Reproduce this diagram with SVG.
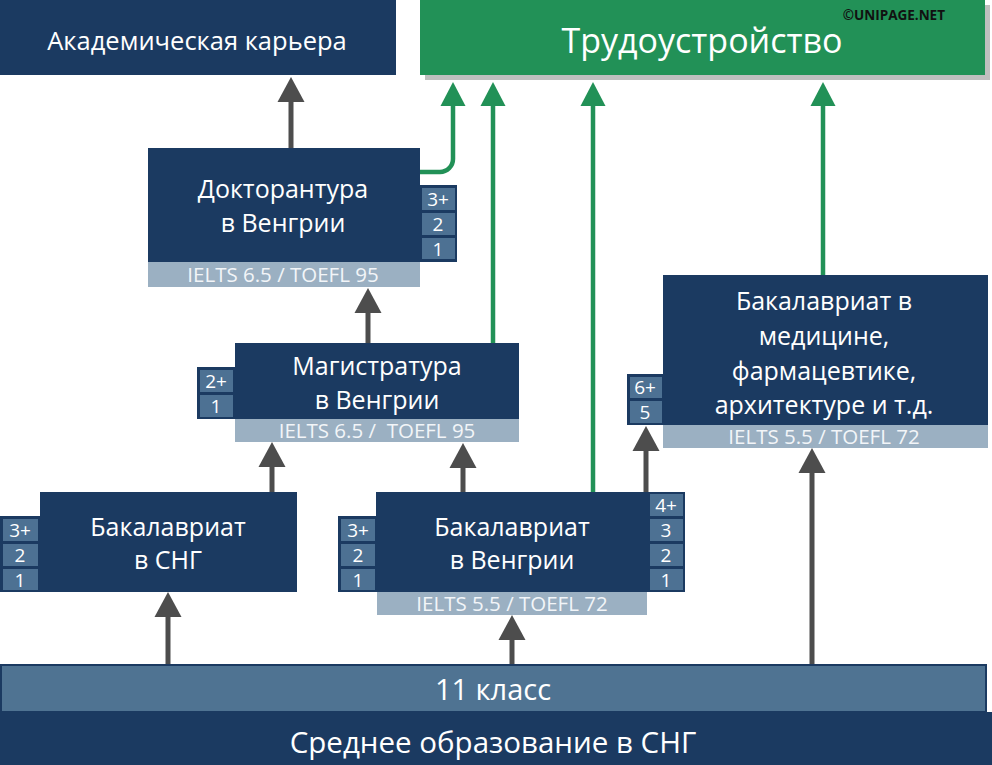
<svg xmlns="http://www.w3.org/2000/svg" width="992" height="765" viewBox="0 0 992 765">
<style>
.box{fill:#1b3a61}
.strip{fill:#9bb0c2}
.cell{fill:#4d7193}
.t{font-family:"Open Sans","Noto Sans",sans-serif;fill:#ffffff;text-anchor:middle}
.lbl{font-size:25px}
.ie{font-size:20.5px;fill:#f2f5f8}
.tg{font-size:19px}
.ga{stroke:#4d4d4d;stroke-width:5;fill:none}
.gr{stroke:#229157;stroke-width:4.5;fill:none}
</style>
<defs>
<marker id="hg" markerUnits="userSpaceOnUse" markerWidth="27" markerHeight="27" refX="0" refY="13.5" orient="auto" overflow="visible"><path d="M0,0 L25,13.5 L0,27 z" fill="#4d4d4d"/></marker>
<marker id="hn" markerUnits="userSpaceOnUse" markerWidth="25" markerHeight="25" refX="0" refY="12.5" orient="auto" overflow="visible"><path d="M0,0 L24,12.5 L0,25 z" fill="#229157"/></marker>
</defs>
<rect width="992" height="765" fill="#ffffff"/>

<g id="academic">
<rect class="box" x="0" y="0" width="396" height="75"/>
<text class="t" x="197" y="50" font-size="25.5">Академическая карьера</text>
</g>

<g id="employment">
<rect x="425" y="5" width="565" height="75" fill="#bfbfbf"/>
<rect x="420" y="0" width="565" height="75" fill="#229157"/>
<text class="t" x="702" y="53" font-size="34">Трудоустройство</text>
<text x="945" y="20" font-family="'Open Sans','Noto Sans',sans-serif" font-size="13.5" font-weight="bold" fill="#111" text-anchor="end">©UNIPAGE.NET</text>
</g>

<g id="connectors">
<line class="ga" x1="291" y1="148" x2="291" y2="102" marker-end="url(#hg)"/>
<line class="ga" x1="368" y1="343" x2="368" y2="313" marker-end="url(#hg)"/>
<line class="ga" x1="272" y1="492" x2="272" y2="467" marker-end="url(#hg)"/>
<line class="ga" x1="463" y1="492" x2="463" y2="468" marker-end="url(#hg)"/>
<line class="ga" x1="646" y1="492" x2="646" y2="451" marker-end="url(#hg)"/>
<line class="ga" x1="168" y1="665" x2="168" y2="617" marker-end="url(#hg)"/>
<line class="ga" x1="512" y1="665" x2="512" y2="640" marker-end="url(#hg)"/>
<line class="ga" x1="812" y1="665" x2="812" y2="473" marker-end="url(#hg)"/>
<path class="gr" d="M420,172 H440 A13,13 0 0 0 453,159 V106" marker-end="url(#hn)"/>
<line class="gr" x1="493" y1="343" x2="493" y2="106" marker-end="url(#hn)"/>
<line class="gr" x1="593" y1="492" x2="593" y2="106" marker-end="url(#hn)"/>
<line class="gr" x1="823" y1="275" x2="823" y2="106" marker-end="url(#hn)"/>
</g>

<g id="doctorate">
<rect class="box" x="148" y="148" width="272" height="114"/>
<rect class="strip" x="148" y="262" width="272" height="25"/>
<text class="t lbl" x="283" y="198">Докторантура</text>
<text class="t lbl" x="283" y="232">в Венгрии</text>
<text class="t ie" x="283" y="282">IELTS 6.5 / TOEFL 95</text>
<rect class="box" x="420" y="185" width="37" height="77"/>
<rect class="cell" x="422" y="188" width="33" height="22"/>
<rect class="cell" x="422" y="213" width="33" height="22"/>
<rect class="cell" x="422" y="238" width="33" height="21"/>
<text class="t tg" x="438" y="206">3+</text>
<text class="t tg" x="438" y="231">2</text>
<text class="t tg" x="438" y="256">1</text>
</g>

<g id="masters">
<rect class="box" x="235" y="343" width="284" height="76"/>
<rect class="strip" x="235" y="419" width="284" height="23"/>
<text class="t lbl" x="377" y="375">Магистратура</text>
<text class="t lbl" x="377" y="409">в Венгрии</text>
<text class="t ie" x="377" y="438" xml:space="preserve">IELTS 6.5 /  TOEFL 95</text>
<rect class="box" x="197" y="367" width="38" height="52"/>
<rect class="cell" x="200" y="370" width="33" height="22"/>
<rect class="cell" x="200" y="395" width="33" height="22"/>
<text class="t tg" x="216" y="388">2+</text>
<text class="t tg" x="216" y="413">1</text>
</g>

<g id="medicine">
<rect class="box" x="663" y="275" width="325" height="150"/>
<rect class="strip" x="663" y="425" width="325" height="23"/>
<text class="t lbl" x="824" y="310">Бакалавриат в</text>
<text class="t lbl" x="824" y="345">медицине,</text>
<text class="t lbl" x="824" y="380">фармацевтике,</text>
<text class="t lbl" x="824" y="414">архитектуре и т.д.</text>
<text class="t ie" x="824" y="444">IELTS 5.5 / TOEFL 72</text>
<rect class="box" x="627" y="374" width="36" height="51"/>
<rect class="cell" x="630" y="377" width="32" height="21"/>
<rect class="cell" x="630" y="401" width="32" height="22"/>
<text class="t tg" x="645" y="394">6+</text>
<text class="t tg" x="645" y="419">5</text>
</g>

<g id="bachelor-cis">
<rect class="box" x="40" y="492" width="257" height="100"/>
<text class="t lbl" x="168" y="536">Бакалавриат</text>
<text class="t lbl" x="168" y="569">в СНГ</text>
<rect class="box" x="0" y="516" width="40" height="76"/>
<rect class="cell" x="3" y="519" width="35" height="22"/>
<rect class="cell" x="3" y="544" width="35" height="22"/>
<rect class="cell" x="3" y="569" width="35" height="21"/>
<text class="t tg" x="20" y="537">3+</text>
<text class="t tg" x="20" y="562">2</text>
<text class="t tg" x="20" y="587">1</text>
</g>

<g id="bachelor-hungary">
<rect class="box" x="376" y="492" width="272" height="100"/>
<rect class="strip" x="377" y="592" width="270" height="23"/>
<text class="t lbl" x="512" y="536">Бакалавриат</text>
<text class="t lbl" x="512" y="569">в Венгрии</text>
<text class="t ie" x="512" y="611">IELTS 5.5 / TOEFL 72</text>
<rect class="box" x="338" y="516" width="38" height="76"/>
<rect class="cell" x="341" y="519" width="34" height="22"/>
<rect class="cell" x="341" y="544" width="34" height="22"/>
<rect class="cell" x="341" y="569" width="34" height="21"/>
<text class="t tg" x="358" y="537">3+</text>
<text class="t tg" x="358" y="562">2</text>
<text class="t tg" x="358" y="587">1</text>
<rect class="box" x="648" y="492" width="37" height="100"/>
<rect class="cell" x="650" y="494" width="33" height="22"/>
<rect class="cell" x="650" y="519" width="33" height="22"/>
<rect class="cell" x="650" y="544" width="33" height="22"/>
<rect class="cell" x="650" y="569" width="33" height="21"/>
<text class="t tg" x="666" y="512">4+</text>
<text class="t tg" x="666" y="537">3</text>
<text class="t tg" x="666" y="562">2</text>
<text class="t tg" x="666" y="587">1</text>
</g>

<g id="school">
<rect class="box" x="0" y="712" width="992" height="53"/>
<rect x="1" y="665" width="985" height="47" fill="#4f7392" stroke="#1b3a61" stroke-width="2"/>
<text class="t" x="493" y="700" font-size="29">11 класс</text>
<text class="t" x="493" y="753" font-size="29.5">Среднее образование в СНГ</text>
</g>
</svg>
